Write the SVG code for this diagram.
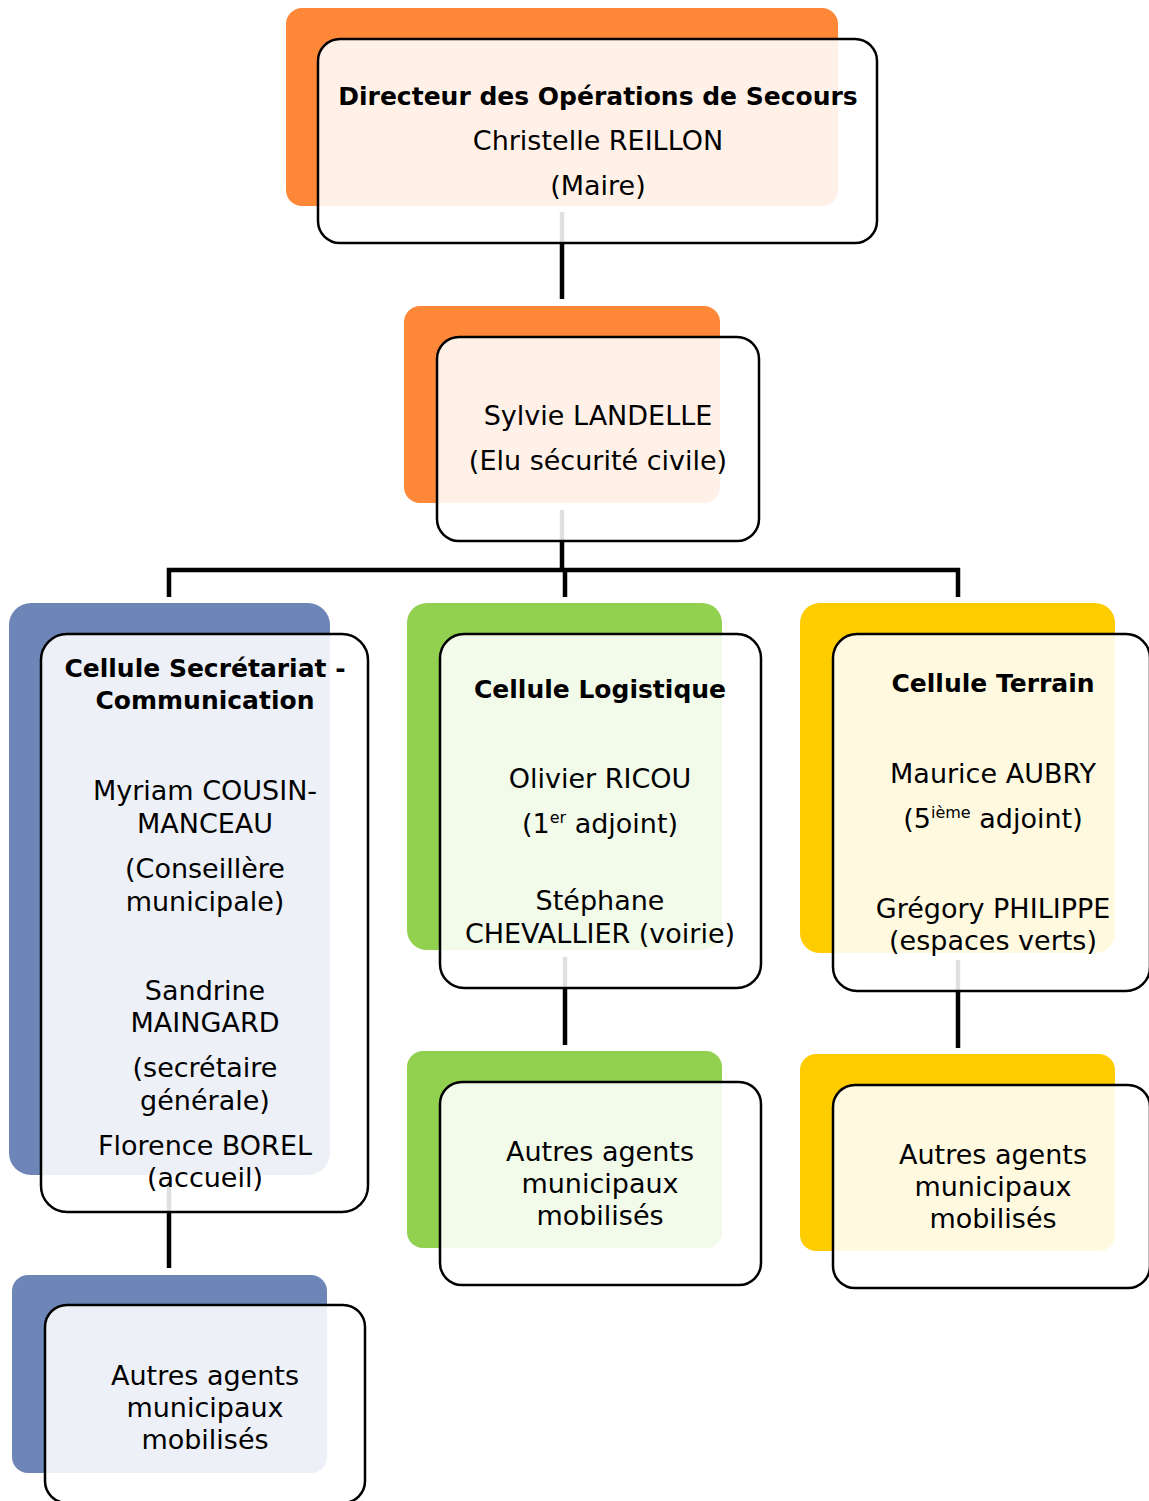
<svg xmlns="http://www.w3.org/2000/svg" width="1149" height="1501" viewBox="0 0 1149 1501">
<style>
.back{stroke:none}
.o{fill:#FF8838}
.b{fill:#6E85B7}
.g{fill:#92D050}
.y{fill:#FFCC00}
.front{fill:#ffffff;fill-opacity:0.88;stroke:#000;stroke-width:2.5}
.conn{fill:none;stroke:#000;stroke-width:4.5}
text{font-family:"DejaVu Sans","Liberation Sans",sans-serif;font-size:27px;fill:#000;text-anchor:middle}
.t{font-weight:bold;font-size:25px}
.sup{font-size:16px}
</style>
<rect width="1149" height="1501" fill="#fff"/>
<g id="connectors">
<path class="conn" d="M562 212V299"/>
<path class="conn" d="M562 510V570"/>
<path class="conn" d="M169 597V570H958V597"/>
<path class="conn" d="M565 570V597"/>
<path class="conn" d="M169 1180V1268"/>
<path class="conn" d="M565 957V1045"/>
<path class="conn" d="M958 960V1048"/>
</g>
<g id="n1">
<rect class="back o" x="286" y="8" width="552" height="198" rx="16"/>
<rect class="front" x="318" y="39" width="559" height="204" rx="22"/>
<text class="t" x="598" y="105">Directeur des Opérations de Secours</text>
<text x="598" y="150">Christelle REILLON</text>
<text x="598" y="195">(Maire)</text>
</g>
<g id="n2">
<rect class="back o" x="404" y="306" width="316" height="197" rx="16"/>
<rect class="front" x="437" y="337" width="322" height="204" rx="22"/>
<text x="598" y="425">Sylvie LANDELLE</text>
<text x="598" y="470">(Elu sécurité civile)</text>
</g>
<g id="n3">
<rect class="back b" x="9" y="603" width="321" height="572" rx="22"/>
<rect class="front" x="41" y="634" width="327" height="578" rx="26"/>
<text class="t" x="205" y="677">Cellule Secrétariat -</text>
<text class="t" x="205" y="709">Communication</text>
<text x="205" y="800">Myriam COUSIN-</text>
<text x="205" y="833">MANCEAU</text>
<text x="205" y="878">(Conseillère</text>
<text x="205" y="911">municipale)</text>
<text x="205" y="1000">Sandrine</text>
<text x="205" y="1032">MAINGARD</text>
<text x="205" y="1077">(secrétaire</text>
<text x="205" y="1110">générale)</text>
<text x="205" y="1155">Florence BOREL</text>
<text x="205" y="1187">(accueil)</text>
</g>
<g id="n4">
<rect class="back b" x="12" y="1275" width="315" height="198" rx="16"/>
<rect class="front" x="45" y="1305" width="320" height="198" rx="22"/>
<text x="205" y="1385">Autres agents</text>
<text x="205" y="1417">municipaux</text>
<text x="205" y="1449">mobilisés</text>
</g>
<g id="n5">
<rect class="back g" x="407" y="603" width="315" height="347" rx="20"/>
<rect class="front" x="440" y="634" width="321" height="354" rx="24"/>
<text class="t" x="600" y="698">Cellule Logistique</text>
<text x="600" y="788">Olivier RICOU</text>
<text x="600" y="833">(1<tspan class="sup" dy="-10">er</tspan><tspan dy="10"> adjoint)</tspan></text>
<text x="600" y="910">Stéphane</text>
<text x="600" y="943">CHEVALLIER (voirie)</text>
</g>
<g id="n6">
<rect class="back g" x="407" y="1051" width="315" height="197" rx="16"/>
<rect class="front" x="440" y="1082" width="321" height="203" rx="22"/>
<text x="600" y="1161">Autres agents</text>
<text x="600" y="1193">municipaux</text>
<text x="600" y="1225">mobilisés</text>
</g>
<g id="n7">
<rect class="back y" x="800" y="603" width="315" height="350" rx="20"/>
<rect class="front" x="833" y="634" width="317" height="357" rx="24"/>
<text class="t" x="993" y="692">Cellule Terrain</text>
<text x="993" y="783">Maurice AUBRY</text>
<text x="993" y="828">(5<tspan class="sup" dy="-10">ième</tspan><tspan dy="10"> adjoint)</tspan></text>
<text x="993" y="918">Grégory PHILIPPE</text>
<text x="993" y="950">(espaces verts)</text>
</g>
<g id="n8">
<rect class="back y" x="800" y="1054" width="315" height="197" rx="16"/>
<rect class="front" x="833" y="1085" width="317" height="203" rx="22"/>
<text x="993" y="1164">Autres agents</text>
<text x="993" y="1196">municipaux</text>
<text x="993" y="1228">mobilisés</text>
</g>
</svg>
